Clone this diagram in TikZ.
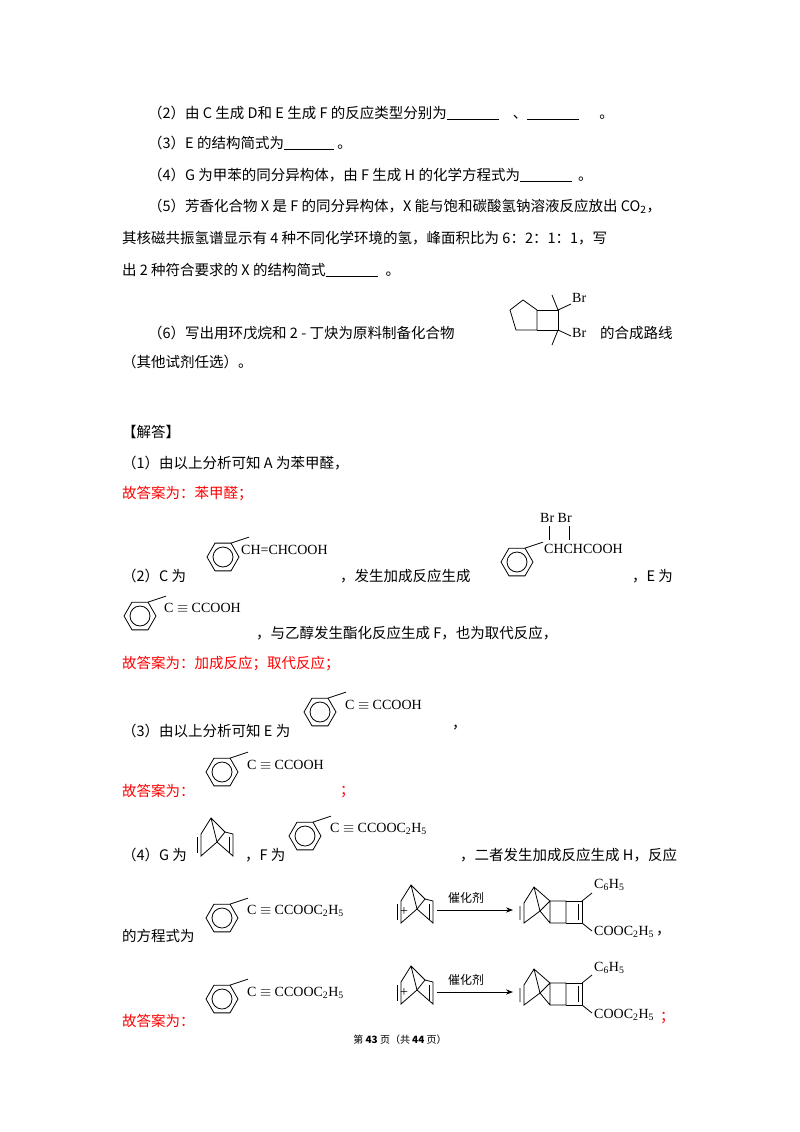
\documentclass[tikz,border=0pt]{standalone}
\usepackage{fontspec}
\setmainfont{Liberation Serif}
\newfontfamily\cjk{Noto Sans CJK SC}
\usetikzlibrary{arrows.meta}
\tikzset{
 tx/.style={anchor=west,inner sep=0pt,font=\cjk\fontsize{14.5}{16}\selectfont},
 rt/.style={tx,text=red},
 ch/.style={anchor=west,inner sep=0pt,font=\rmfamily\fontsize{14}{15}\selectfont},
 bd/.style={line width=0.8pt}
}
\newcommand{\blank}[1]{\underline{\hbox to #1{}}}
\newcommand{\mybenz}[2]{\begin{scope}[shift={(#1,#2)},bd]
 \draw (0:16)--(60:16)--(120:16)--(180:16)--(240:16)--(300:16)--cycle;
 \draw (0,0) circle (10);
 \draw (300:16)--++(18,-6);
\end{scope}}
\newcommand{\mynorb}[2]{\begin{scope}[shift={(#1,#2)},bd]
 \draw (-16,-4)--(-6,-20)--(8,-6) (-6,-20)--(0,4);
 \draw (-16,-4)--(-16,18)--(0,4)--(8,-6)--(16,-4)--(16,18)--(0,4);
 \draw (-20,-1)--(-20,15) (12,-1)--(12,15);
\end{scope}}
\newcommand{\myprod}[2]{\begin{scope}[shift={(#1,#2)},bd]
 \draw (-20,-2)--(-10,-18)--(6,-4) (-10,-18)--(-4,6);
 \draw (-20,-2)--(-20,18)--(-4,6) (-24,1)--(-24,15);
 \draw (6,-4)--(22,-4)--(22,18)--(6,18)--cycle (-4,6)--(6,18) (6,-4)--(-4,6);
 \draw (38,-4)--(38,18) (34,-1)--(34,15);
 \draw (22,-4)--(38,-4) (22,18)--(38,18);
 \draw (38,-4)--(48,-12) (38,18)--(48,26);
\end{scope}}
\begin{document}
\begin{tikzpicture}[x=1pt,y=-1pt]
\useasboundingbox (0,0) rectangle (800,1132);
\fill[white] (0,0) rectangle (800,1132);
\node[tx] (q2) at (148,113) {（2）由 C 生成 D和 E 生成 F 的反应类型分别为\blank{52pt}\hspace{14pt}、\blank{52pt}\hspace{20pt}。};
\node[tx] (q3) at (148,143) {（3）E 的结构简式为\blank{50pt} 。};
\node[tx] (q4) at (148,175) {（4）G 为甲苯的同分异构体，由 F 生成 H 的化学方程式为\blank{52pt}\hspace{6pt}。};
\node[tx] (q5) at (148,206) {（5）芳香化合物 X 是 F 的同分异构体，X 能与饱和碳酸氢钠溶液反应放出 CO\textsubscript{2}，};
\node[tx] (q5b) at (122,238) {其核磁共振氢谱显示有 4 种不同化学环境的氢，峰面积比为 6：2：1：1，写};
\node[tx] (q5c) at (122,270) {出 2 种符合要求的 X 的结构简式\blank{52pt}\hspace{8pt}。};
\node[tx] (q6) at (148,333) {（6）写出用环戊烷和 2 - 丁炔为原料制备化合物};
\node[tx] (q6r) at (600,333) {的合成路线};
\node[tx] (q6b) at (122,362) {（其他试剂任选）。};
\begin{scope}[bd]
 \draw (537,310)--(523,300)--(510,310)--(516,330)--(537,330)--cycle;
 \draw (537,310)--(558,310)--(558,330)--(537,330);
 \draw (558,310)--(552,295) (558,330)--(552,345) (558,310)--(571,304) (558,330)--(571,336);
\end{scope}
\node[ch] (br1) at (572,298) {Br};
\node[ch] (br2) at (572,333) {Br};
\node[tx] (a0) at (122,432) {【解答】};
\node[tx] (a1) at (122,463) {（1）由以上分析可知 A 为苯甲醛，};
\node[rt] (r1) at (122,494) {故答案为：苯甲醛；};
\node[tx] (a2) at (122,576) {（2）C 为};
\mybenz{223}{557}
\node[ch] (c1) at (241,550) {CH=CHCOOH};
\node[tx] (a2b) at (340,576) {，发生加成反应生成};
\mybenz{517}{562}
\node[ch] (d1) at (544,549) {CHCHCOOH};
\node[ch] (d2) at (540,518) {Br Br};
\draw[line width=0.6pt] (549,526)--(549,540) (569,526)--(569,540);
\node[tx] (a2c) at (632,576) {，E 为};
\mybenz{140}{616}
\node[ch] (e1) at (164,608) {C $\equiv$ CCOOH};
\node[tx] (a2d) at (256,633) {，与乙醇发生酯化反应生成 F，也为取代反应，};
\node[rt] (r2) at (122,664) {故答案为：加成反应；取代反应；};
\node[tx] (a3) at (122,731) {（3）由以上分析可知 E 为};
\mybenz{320}{712}
\node[ch] (e2) at (345,705) {C $\equiv$ CCOOH};
\node[tx] (a3b) at (452,728) {，};
\node[rt] (r3) at (122,791) {故答案为：};
\mybenz{222}{772}
\node[ch] (e3) at (247,765) {C $\equiv$ CCOOH};
\node[rt] (r3b) at (340,792) {；};
\node[tx] (a4) at (122,855) {（4）G 为};
\mynorb{217}{838}
\node[tx] (a4b) at (245,855) {，F 为};
\mybenz{305}{836}
\node[ch] (f1) at (330,829) {C $\equiv$ CCOOC\textsubscript{2}H\textsubscript{5}};
\node[tx] (a4c) at (460,855) {，二者发生加成反应生成 H，反应};
\node[tx] (a4d) at (122,936) {的方程式为};
\mybenz{222}{918}
\node[ch] (f2) at (247,911) {C $\equiv$ CCOOC\textsubscript{2}H\textsubscript{5}};
\node[ch] (p1) at (400,912) {+};
\mynorb{417}{905}
\coordinate (s1) at (437,910); \coordinate (t1) at (513,910);
\draw[bd,-{Stealth[length=7pt]}] (s1)--(t1);
\node[tx,font=\cjk\fontsize{12}{13}\selectfont] (k1) at (448,898) {催化剂};
\myprod{544}{905}
\node[ch] (h1) at (594,885) {C\textsubscript{6}H\textsubscript{5}};
\node[ch] (h2) at (594,932) {COOC\textsubscript{2}H\textsubscript{5}};
\node[tx] (cm) at (656,934) {，};
\node[rt] (r4) at (122,1021) {故答案为：};
\mybenz{222}{999}
\node[ch] (f3) at (247,993) {C $\equiv$ CCOOC\textsubscript{2}H\textsubscript{5}};
\node[ch] (p2) at (400,993) {+};
\mynorb{417}{986}
\coordinate (s2) at (437,992); \coordinate (t2) at (513,992);
\draw[bd,-{Stealth[length=7pt]}] (s2)--(t2);
\node[tx,font=\cjk\fontsize{12}{13}\selectfont] (k2) at (448,980) {催化剂};
\myprod{544}{987}
\node[ch] (h3) at (594,968) {C\textsubscript{6}H\textsubscript{5}};
\node[ch] (h4) at (594,1015) {COOC\textsubscript{2}H\textsubscript{5}};
\node[rt] (sc) at (660,1018) {；};
\node[inner sep=0pt,font=\cjk\fontsize{10}{11}\selectfont] (ft) at (400,1040) {第 \textbf{43} 页（共 \textbf{44} 页）};
\end{tikzpicture}
\end{document}
